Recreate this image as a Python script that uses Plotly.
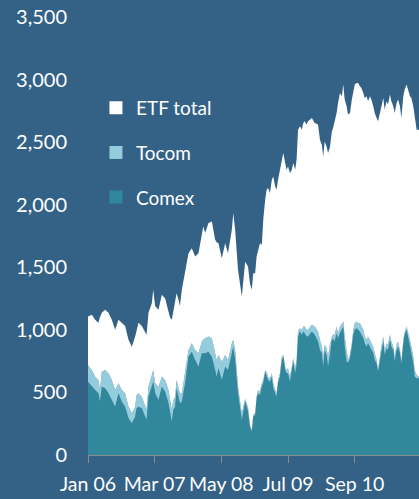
import plotly.graph_objects as go

# months since January 2006
months = [
    0.0, 0.8, 1.5, 2.2, 2.5, 2.9, 3.6, 4.3, 5.0, 5.7,
    6.4, 7.1, 7.8, 8.5, 9.2, 9.9, 10.2, 10.6, 11.3, 12.0,
    12.3, 12.7, 13.4, 13.7, 14.1, 14.8, 15.5, 16.2, 16.9, 17.2,
    17.6, 17.9, 18.3, 18.6, 19.0, 19.3, 19.7, 20.4, 21.1, 21.8,
    22.5, 23.2, 23.9, 24.2, 24.6, 25.3, 26.0, 26.7, 27.0, 27.4,
    28.1, 28.8, 29.4, 30.2, 30.5, 30.9, 31.5, 32.3, 33.0, 33.6,
    34.0, 34.4, 34.7, 35.1, 35.4, 35.7, 36.1, 36.5, 36.8, 37.2,
    37.5, 37.8, 38.2, 38.6, 38.9, 39.3, 39.6, 39.9, 40.3, 40.7,
    41.0, 41.4, 41.7, 42.0, 42.4, 42.8, 43.1, 43.5, 43.8, 44.1,
    44.5, 44.9, 45.2, 45.5, 45.9, 46.2, 47.0, 47.6, 48.3, 48.7,
    49.1, 49.4, 49.7, 50.1, 50.4, 50.8, 51.2, 51.5, 51.8, 52.2,
    52.5, 52.9, 53.3, 53.6, 53.9, 54.3, 54.6, 55.0, 55.4, 55.7,
    56.0, 56.4, 56.7, 57.1, 57.4, 57.8, 58.1, 58.5, 58.8, 59.2,
    59.5, 59.9, 60.2, 60.6, 60.9, 61.3, 61.6, 62.0, 62.3, 62.7,
    63.0, 63.4, 63.7, 64.1, 64.4, 64.8, 65.1, 65.5, 65.8, 66.2,
    66.5, 66.9, 67.2, 67.6, 67.9, 68.3, 68.6, 69.0, 69.5,
]

# cumulative level: Comex + Tocom + ETF (total)
total_level = [
    1106, 1120, 1080, 1056, 1100, 1136, 1160, 1136, 1080, 1000,
    1080, 1056, 1030, 920, 866, 946, 1000, 1056, 1030, 973,
    960, 1136, 1213, 1320, 1190, 1160, 1280, 1250, 1136, 1100,
    1080, 1150, 1213, 1293, 1240, 1190, 1320, 1453, 1613, 1653,
    1586, 1613, 1746, 1826, 1773, 1853, 1866, 1720, 1700, 1693,
    1573, 1693, 1613, 1800, 1933, 1800, 1480, 1266, 1545, 1506,
    1373, 1320, 1453, 1453, 1586, 1640, 1693, 1680, 1880, 2040,
    2120, 2133, 2093, 2200, 2226, 2146, 2120, 2200, 2280, 2360,
    2413, 2333, 2280, 2306, 2253, 2280, 2333, 2280, 2360, 2600,
    2626, 2600, 2653, 2666, 2640, 2666, 2693, 2653, 2640, 2520,
    2480, 2386, 2506, 2466, 2413, 2460, 2586, 2620, 2666, 2733,
    2813, 2893, 2866, 2960, 2840, 2786, 2720, 2733, 2840, 2920,
    2960, 2973, 2973, 2946, 2933, 2893, 2853, 2866, 2826, 2866,
    2840, 2786, 2733, 2693, 2666, 2733, 2786, 2853, 2760, 2826,
    2800, 2880, 2826, 2786, 2733, 2813, 2840, 2786, 2693, 2866,
    2920, 2960, 2920, 2866, 2853, 2786, 2706, 2600, 2600,
]

# cumulative level: Comex + Tocom
comex_tocom_level = [
    720, 680, 626, 600, 520, 666, 680, 653, 600, 520,
    573, 520, 493, 386, 333, 386, 480, 493, 466, 386,
    360, 546, 640, 680, 573, 546, 626, 600, 520, 440,
    360, 440, 466, 600, 546, 493, 493, 653, 840, 893,
    840, 813, 906, 920, 933, 946, 933, 813, 760, 800,
    746, 800, 760, 893, 920, 840, 546, 333, 450, 380,
    240, 200, 320, 333, 466, 520, 506, 573, 600, 680,
    666, 626, 613, 653, 573, 520, 493, 600, 653, 786,
    800, 706, 680, 693, 626, 706, 773, 693, 760, 986,
    1013, 1000, 1026, 1026, 1000, 1000, 1040, 1026, 986, 920,
    866, 786, 880, 853, 786, 880, 946, 965, 960, 1026,
    973, 1026, 1053, 1066, 946, 813, 760, 800, 893, 1000,
    1053, 1066, 1053, 1053, 1026, 1000, 946, 920, 946, 920,
    893, 866, 813, 760, 680, 813, 866, 946, 840, 893,
    880, 960, 906, 866, 786, 880, 906, 840, 746, 920,
    986, 1026, 986, 920, 866, 786, 680, 640, 626,
]

# Comex
comex = [
    586, 546, 520, 493, 426, 546, 533, 493, 440, 386,
    493, 426, 386, 293, 253, 306, 373, 386, 373, 306,
    280, 466, 560, 586, 493, 440, 546, 505, 413, 333,
    266, 360, 386, 533, 466, 413, 426, 573, 786, 826,
    760, 706, 813, 813, 813, 826, 786, 680, 626, 693,
    600, 706, 680, 813, 866, 760, 493, 280, 430, 350,
    226, 186, 306, 320, 453, 493, 480, 546, 573, 666,
    640, 600, 586, 626, 533, 493, 466, 573, 626, 760,
    786, 680, 653, 653, 586, 680, 746, 653, 720, 946,
    986, 960, 986, 973, 946, 946, 986, 960, 906, 840,
    813, 706, 840, 800, 706, 800, 920, 925, 906, 973,
    933, 973, 1013, 1026, 866, 746, 740, 770, 866, 960,
    1000, 1013, 1000, 986, 960, 933, 893, 866, 893, 866,
    840, 813, 760, 733, 666, 773, 826, 906, 800, 853,
    840, 920, 866, 840, 746, 840, 866, 813, 733, 880,
    960, 1000, 946, 893, 813, 733, 626, 613, 613,
]

tocom = [m - c for m, c in zip(comex_tocom_level, comex)]
etf_total = [t - m for t, m in zip(total_level, comex_tocom_level)]

tick_vals = [0, 14, 28, 42, 56]
tick_text = ["Jan 06", "Mar 07", "May 08", "Jul 09", "Sep 10"]

BG = "#336286"
COMEX_C = "#31879B"
TOCOM_C = "#93CDDD"
ETF_C = "#FFFFFF"
FONT = "Lato"

fig = go.Figure()
for name, vals, col in [("Comex", comex, COMEX_C), ("Tocom", tocom, TOCOM_C), ("ETF total", etf_total, ETF_C)]:
    fig.add_trace(go.Scatter(
        x=months, y=vals, name=name, stackgroup="one", mode="lines",
        line=dict(width=0, color=col), fillcolor=col, showlegend=False,
    ))

# legend entries (square swatches), top to bottom
for i, (name, col) in enumerate([("ETF total", ETF_C), ("Tocom", TOCOM_C), ("Comex", COMEX_C)]):
    fig.add_trace(go.Scatter(
        x=[None], y=[None], mode="markers", name=name, legendgroup=str(i),
        marker=dict(symbol="square", size=13, color=col),
    ))

fig.update_layout(
    width=419, height=499,
    margin=dict(l=88, r=0, t=17, b=44),
    paper_bgcolor=BG, plot_bgcolor=BG,
    font=dict(family=FONT, color="white", size=19),
    showlegend=True,
    legend=dict(
        x=0.024, y=0.836, xanchor="left", yanchor="top",
        bgcolor="rgba(0,0,0,0)", font=dict(size=19, color="white"),
        tracegroupgap=17, traceorder="grouped",
    ),
    xaxis=dict(
        range=[0, 69.5], tickmode="array", tickvals=tick_vals, ticktext=tick_text,
        showgrid=False, zeroline=False, showline=True, linecolor="#8C8C8C", linewidth=1,
        ticks="outside", ticklen=7, tickcolor="#8C8C8C", tickwidth=1, tickangle=0,
        ticklabelstandoff=5,
        tickfont=dict(size=19.5, color="white"), automargin=False,
    ),
    yaxis=dict(
        range=[0, 3500], dtick=500, tickformat=",", showgrid=False, zeroline=False,
        showline=False, ticks="", ticklabelstandoff=20,
        tickfont=dict(size=20, color="white"), automargin=False,
    ),
)

fig.write_html(
    "out.html",
    config={"displayModeBar": False},
    post_script="document.body.style.margin='0';document.body.style.background='" + BG + "';",
)
